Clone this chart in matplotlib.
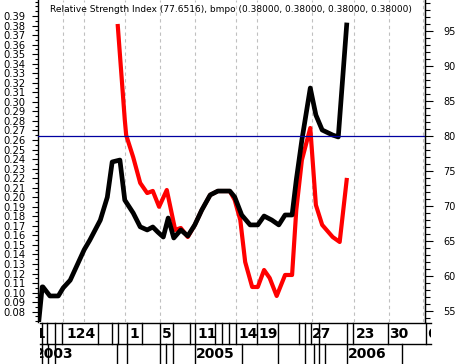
import numpy as np
import matplotlib
matplotlib.use("Agg")
from matplotlib import pyplot as plt
from matplotlib.ticker import MultipleLocator, FormatStrFormatter

# time axis (weekly-ish index), black = bmpo, red = second bmpo line
t_black = [0.1, 0.6, 0.7, 1.7, 2.9, 3.6, 4.6, 5.6, 6.6, 7.4,
           8.9, 9.9, 10.6, 11.7, 12.4, 13.6, 14.6, 15.6, 16.4, 17.1,
           17.9, 18.6, 19.4, 20.4, 21.4, 22.4, 23.4, 24.6, 25.7, 27.4,
           28.1, 29.1, 30.3, 31.4, 32.3, 33.4, 34.4, 35.3, 36.3, 36.9,
           37.7, 38.9, 39.7, 40.6, 42.1, 42.9, 44.1]
v_black = [0.069, 0.106, 0.106, 0.0965, 0.0965, 0.105, 0.113, 0.129, 0.145, 0.155,
           0.176, 0.200, 0.237, 0.239, 0.197, 0.1835, 0.169, 0.1657, 0.1688, 0.1636,
           0.1583, 0.1782, 0.1573, 0.1657, 0.1594, 0.171, 0.1866, 0.2024, 0.2065, 0.2065,
           0.2003, 0.1814, 0.171, 0.171, 0.1803, 0.1761, 0.171, 0.1814, 0.1814, 0.2181,
           0.260, 0.3145, 0.2862, 0.2705, 0.2652, 0.2632, 0.3806]

t_red = [11.4, 12.4, 12.6, 13.6, 14.6, 15.6, 16.4, 17.3, 18.4, 19.6,
         20.4, 21.4, 22.4, 23.4, 24.6, 25.7, 27.4, 28.1, 28.9, 29.6,
         30.6, 31.4, 32.3, 33.1, 34.1, 35.3, 36.3, 36.9, 37.7, 38.9,
         39.7, 40.6, 42.1, 43.1, 44.1]
v_red = [0.3795, 0.281, 0.265, 0.242, 0.215, 0.2044, 0.2066, 0.190, 0.2076, 0.1657,
         0.1678, 0.1583, 0.171, 0.1866, 0.2024, 0.2065, 0.2065, 0.1971, 0.1761, 0.1321,
         0.1059, 0.1059, 0.1237, 0.1153, 0.0965, 0.1185, 0.1185, 0.1866, 0.239, 0.2726,
         0.1919, 0.171, 0.1583, 0.1531, 0.2181]

rsi_level = 80
grid_t = [3.6, 6.6, 12.4, 17.4, 22.4, 28.3, 31.3, 39.1, 45.1, 50.1, 55.0]

title = "Relative Strength Index (77.6516), bmpo (0.38000, 0.38000, 0.38000, 0.38000)"

# date strip under the chart (pixel positions of the separators)
day_labels = [("1", 35), ("124", 66), ("1", 129), ("5", 162), ("11", 197), ("14", 238),
              ("19", 258), ("27", 312), ("23", 356), ("30", 389), ("6", 427)]
day_seps = [42, 47, 55, 62, 98, 112, 118, 127, 142, 160, 173, 190, 195, 215, 222, 229,
            236, 257, 278, 299, 305, 311, 319, 347, 353, 388, 426]
year_labels = [("2003", 35), ("2005", 196), ("2006", 348)]
year_seps = [42, 48, 55, 117, 127, 160, 166, 173, 195, 242, 278, 305, 314, 319, 325, 347, 402]

W, H = 464, 364
fig = plt.figure(figsize=(W / 100, H / 100), dpi=100)
ax = fig.add_axes([38 / W, 42 / H, 387 / W, 322 / H])

for g in grid_t:
    ax.axvline(g, color="#c0c0c0", lw=0.8, ls=(0, (3, 3)), zorder=0)

ax.plot(t_red, v_red, color="#ff0000", lw=3.0, solid_joinstyle="round", zorder=3)
ax.plot(t_black, v_black, color="black", lw=3.4, solid_joinstyle="round", zorder=4)

ax.set_xlim(0, 55.29)
ax.set_ylim(0.0692, 0.4068)
ax.yaxis.set_minor_locator(MultipleLocator(0.005))
ax.yaxis.set_major_formatter(FormatStrFormatter("%.2f"))
ax.set_yticks(np.arange(0.08, 0.395, 0.01))
ax.tick_params(axis="y", which="major", length=4, width=0.8, labelsize=7.2, pad=5)
ax.tick_params(axis="y", which="minor", length=2.5, width=0.8)
ax.set_xticks([])
for s in ["top", "bottom"]:
    ax.spines[s].set_visible(False)
ax.spines["left"].set_linewidth(1)
ax.spines["right"].set_linewidth(1)

ax2 = ax.twinx()
ax2.set_ylim(53.43, 99.43)
ax2.set_yticks([55, 60, 65, 70, 75, 80, 85, 90, 95])
ax2.yaxis.set_minor_locator(MultipleLocator(1))
ax2.tick_params(axis="y", which="major", length=6, width=0.8, labelsize=7, pad=7)
ax2.tick_params(axis="y", which="minor", length=3.5, width=0.8)
ax2.axhline(rsi_level, color="#0000a0", lw=0.9, zorder=5)
for s in ["top", "bottom", "left"]:
    ax2.spines[s].set_visible(False)

fig.text(50 / W, 1 - 9 / H, title, fontsize=6.5, va="center", ha="left")

# date strip
axd = fig.add_axes([40 / W, 0, 391 / W, 42 / H])
axd.set_xlim(40, 431)
axd.set_ylim(42, 0)
axd.axis("off")
axd.plot([40, 431], [0.5, 0.5], color="black", lw=1, clip_on=False)
axd.plot([40, 431], [22, 22], color="black", lw=1, clip_on=False)
for x in day_seps:
    axd.plot([x, x], [0.5, 22], color="black", lw=1)
for x in year_seps:
    axd.plot([x, x], [22, 42], color="black", lw=1)
for lab, x in day_labels:
    axd.text(x, 12, lab, fontsize=10, fontweight="bold", ha="left", va="center", clip_on=True)
for lab, x in year_labels:
    axd.text(x, 32.5, lab, fontsize=10, fontweight="bold", ha="left", va="center", clip_on=True)

fig.savefig("out.png", dpi=100)
